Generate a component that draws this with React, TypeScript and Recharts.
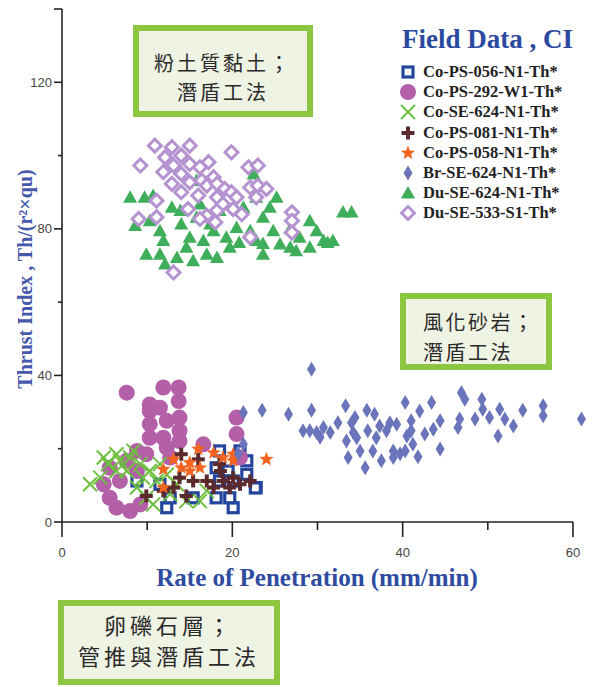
import React from 'react';
import { ScatterChart, Scatter, XAxis, YAxis, ReferenceLine } from 'recharts';

type Pt = [number, number];

const X_TICKS = [0, 10, 20, 30, 40, 50, 60];
const Y_TICKS = [0, 20, 40, 60, 80, 100, 120, 140];
const X_LABELED = [0, 20, 40, 60];
const Y_LABELED = [0, 40, 80, 120];

// Co-PS-056-N1-Th* (open squares)
const coPS056: Pt[] = [
  [18.5, 19.4], [18.1, 14.8], [19.5, 13.9], [20.1, 11.2], [21.7, 16.7], [21.7, 13],
  [22.8, 9.4], [20.1, 3.9], [12.3, 3.9], [8.8, 11.2], [12.7, 6.6], [15.4, 6.6],
  [18.1, 6.6], [19.7, 6.6], [18.5, 11.2], [20.9, 19.4], [11.5, 10.3], [22.7, 9.3],
];

// Co-PS-292-W1-Th* (filled circles)
const coPS292: Pt[] = [
  [7.6, 35.3], [10.3, 32.1], [11.9, 36.7], [13.7, 36.7], [13.7, 33], [10.3, 30.3],
  [11.5, 31.2], [10.3, 26.7], [12.3, 27.6], [13.8, 28.5], [10.3, 23], [11.9, 23],
  [13.8, 24.9], [13.8, 22.1], [8.8, 19.4], [7.6, 16.7], [5.6, 14.8], [4.9, 10.3],
  [5.6, 6.6], [6.4, 3.9], [8, 3], [9.2, 4.8], [16.6, 21.2], [20.5, 28.5],
  [20.5, 24], [20.9, 17.6], [8.8, 13.9], [9.9, 18.5], [12.3, 20.3], [6.8, 11.2],
  [12.7, 17.6],
];

// Co-SE-624-N1-Th* (crosses)
const coSE624: Pt[] = [
  [4.9, 17.6], [6.4, 18.5], [5.4, 15.8], [3.3, 10.3], [4.5, 12.1], [8.4, 19.4],
  [8, 17.6], [9.2, 15.8], [7.6, 13.9], [9.5, 12.1], [10.3, 13.9], [11.1, 11.2],
  [8.8, 9.4], [9.9, 6.6], [10.7, 4.8], [12.7, 7.6], [13.5, 10.3], [14.6, 5.7],
  [16.2, 5.7], [17, 8.5], [12.3, 12.9], [6.8, 16.7], [11.5, 15.8], [6.4, 13.9],
];

// Co-PS-081-N1-Th* (plus)
const coPS081: Pt[] = [
  [14, 18.5], [16, 17.1], [9.9, 7.1], [11.9, 8.5], [14.6, 7.1], [13.8, 12.1],
  [15.4, 11.2], [17, 11.2], [18.6, 13.9], [18.9, 11.2], [19.7, 9.4], [20.9, 10.3],
  [22.1, 11.2], [17.8, 9.4], [20.1, 12.1], [13.1, 9.4], [18.5, 15.8],
];

// Co-PS-058-N1-Th* (stars)
const coPS058: Pt[] = [
  [11.9, 14.4], [11.9, 9.4], [13.1, 17.1], [14, 14.8], [15, 16.2], [16, 19.9],
  [16.2, 14.8], [17.8, 18.9], [18.9, 17.6], [20.1, 16.7], [20.1, 18.5], [24, 17.1],
  [15, 13.9],
];

// Br-SE-624-N1-Th* (slim diamonds)
const brSE624: Pt[] = [
  [29.3, 41.7], [23.5, 30.5], [26.6, 29.4], [29.3, 30.5], [28.3, 24.9], [29.9, 24.4],
  [30.7, 25.8], [31.5, 24.4], [32.4, 27.1], [33.3, 31.7], [33.4, 22.1], [33.6, 17.6],
  [34.4, 28.5], [34.6, 23], [35, 19.4], [35.6, 14.8], [35.8, 30.5], [35.9, 24.9],
  [36.7, 29.4], [36.5, 19.4], [37.3, 26.2], [37.5, 16.7], [38.1, 24.9], [38.9, 19.4],
  [39.3, 26.7], [39.7, 18.6], [40.3, 32.6], [40.5, 23.5], [41, 27.6], [41.2, 21.2],
  [41.8, 17.8], [42, 30.3], [42.6, 24], [43.4, 32.6], [43.6, 25.3], [44.4, 27.6],
  [44.4, 19.9], [46.5, 25.8], [46.9, 35.3], [47.3, 33.5], [46.7, 28.1], [48.5, 28.1],
  [49.3, 33.5], [49.4, 30.8], [50.2, 28.5], [51.2, 23.5], [51.4, 30.8], [52, 28.1],
  [53, 26.2], [54.1, 30.5], [56.5, 31.7], [56.5, 29], [61, 28.1], [21.3, 29.9],
  [21.3, 21.2], [20.7, 18.6], [29.1, 24.9], [30.3, 23.1], [34, 27.1], [34.2, 24.4],
  [36.9, 23], [38.5, 27.1], [40.3, 19.4], [41, 24.9], [38.9, 17.6],
];

// Du-SE-624-N1-Th* (triangles)
const duSE624: Pt[] = [
  [8, 88.6], [9.7, 88.6], [10.7, 89.1], [12.9, 85.9], [8.6, 80.9], [10.3, 82.2],
  [11.5, 79.5], [11.9, 76.8], [9.9, 73.1], [11.5, 73.1], [12.1, 70.4], [14, 81.3],
  [15, 77.7], [14.6, 75], [15.8, 83.2], [15.8, 93.2], [16.6, 76.8], [17, 73.1],
  [17.8, 79.5], [18.5, 85], [19.3, 77.7], [19.7, 75], [20.5, 80.4], [21.3, 85.9],
  [22.1, 79.5], [22.8, 76.8], [23.6, 83.2], [23.6, 73.1], [24.4, 85.9], [25.2, 88.6],
  [22.5, 95], [24.8, 79.5], [26.8, 75], [27.9, 77.7], [29.1, 82.2], [29.9, 79.5],
  [30.7, 76.8], [31.8, 76.8], [33, 84.6], [34, 84.6], [13.5, 72.2], [15.4, 71.3],
  [18.2, 72.2], [17.4, 81.3], [16.2, 86.8], [13.9, 85], [22.8, 88.6], [20.8, 76.3],
  [25.6, 75.9], [27.5, 74], [29.1, 75], [31.2, 76.3], [26.8, 80], [23.6, 76],
];

// Du-SE-533-S1-Th* (open diamonds)
const duSE533: Pt[] = [
  [10.9, 102.7], [12.9, 102.3], [15, 102.7], [12.1, 99.5], [14, 100], [9.2, 97.3],
  [13.1, 97.3], [15, 97.7], [16.2, 96.8], [17.2, 98.2], [19.9, 100.9], [11.9, 95.5],
  [14, 95], [12.9, 92.3], [15, 92.7], [16.4, 93.2], [17.8, 94.1], [14, 90],
  [16, 89.1], [17, 91.8], [18.2, 92.3], [19.1, 90.9], [19.9, 90], [21.9, 96.8],
  [23, 97.3], [22.1, 91.3], [23, 91.8], [24, 90.9], [22.8, 88.6], [11.1, 87.7],
  [18.2, 88.6], [20.5, 88.6], [14.8, 85.4], [17, 83.6], [18.2, 85], [18.9, 86.8],
  [20.1, 85.4], [21.1, 84], [16.2, 82.7], [18, 81.8], [9, 82.7], [11.1, 83.2],
  [27, 84.5], [27, 82.2], [27, 79], [22.1, 77.7], [13.1, 68.1],
];

const toRows = (pts: Pt[]) => pts.map(([x, y]) => ({ x, y }));

type Kind = 'square' | 'circle' | 'cross' | 'plus' | 'star' | 'slim' | 'triangle' | 'diamond';

const SERIES: { name: string; data: Pt[]; kind: Kind; color: string }[] = [
  { name: 'Co-PS-056-N1-Th*', data: coPS056, kind: 'square', color: '#23459d' },
  { name: 'Co-PS-292-W1-Th*', data: coPS292, kind: 'circle', color: '#b360a8' },
  { name: 'Co-SE-624-N1-Th*', data: coSE624, kind: 'cross', color: '#6dbf3e' },
  { name: 'Co-PS-081-N1-Th*', data: coPS081, kind: 'plus', color: '#5b2a2c' },
  { name: 'Co-PS-058-N1-Th*', data: coPS058, kind: 'star', color: '#f2641f' },
  { name: 'Br-SE-624-N1-Th*', data: brSE624, kind: 'slim', color: '#6a74ba' },
  { name: 'Du-SE-624-N1-Th*', data: duSE624, kind: 'triangle', color: '#3fae5b' },
  { name: 'Du-SE-533-S1-Th*', data: duSE533, kind: 'diamond', color: '#b493d0' },
];

const starPoints = (cx: number, cy: number, ro: number, ri: number) => {
  const p: string[] = [];
  for (let i = 0; i < 10; i++) {
    const a = (-90 + i * 36) * Math.PI / 180;
    const r = i % 2 ? ri : ro;
    p.push(`${cx + r * Math.cos(a)},${cy + r * Math.sin(a)}`);
  }
  return p.join(' ');
};

const Marker = ({ kind, cx, cy, color }: { kind: Kind; cx: number; cy: number; color: string }) => {
  switch (kind) {
    case 'square':
      return <rect x={cx - 5} y={cy - 5} width={10} height={10} fill="#fff" stroke={color} strokeWidth={3.2} />;
    case 'circle':
      return <circle cx={cx} cy={cy} r={8} fill={color} />;
    case 'cross':
      return (
        <g stroke={color} strokeWidth={2}>
          <line x1={cx - 7} y1={cy - 7} x2={cx + 7} y2={cy + 7} />
          <line x1={cx - 7} y1={cy + 7} x2={cx + 7} y2={cy - 7} />
        </g>
      );
    case 'plus':
      return (
        <g stroke={color} strokeWidth={4}>
          <line x1={cx - 6.5} y1={cy} x2={cx + 6.5} y2={cy} />
          <line x1={cx} y1={cy - 6.5} x2={cx} y2={cy + 6.5} />
        </g>
      );
    case 'star':
      return <polygon points={starPoints(cx, cy, 7.5, 3.2)} fill={color} />;
    case 'slim':
      return <polygon points={`${cx},${cy - 7.5} ${cx + 4.5},${cy} ${cx},${cy + 7.5} ${cx - 4.5},${cy}`} fill={color} />;
    case 'triangle':
      return <polygon points={`${cx},${cy - 7} ${cx + 7},${cy + 5.5} ${cx - 7},${cy + 5.5}`} fill={color} />;
    case 'diamond':
      return (
        <polygon
          points={`${cx},${cy - 6.5} ${cx + 6.5},${cy} ${cx},${cy + 6.5} ${cx - 6.5},${cy}`}
          fill="#fff" stroke={color} strokeWidth={3}
        />
      );
    default:
      return null;
  }
};

const XTick = (props: any) => {
  const { x, y, payload } = props;
  const major = X_LABELED.includes(payload.value);
  return (
    <g>
      <line x1={x} x2={x} y1={y} y2={y + (major ? 15 : 8)} stroke="#222" strokeWidth={1.6} />
      {major && (
        <text x={x} y={y + 30} textAnchor="middle" dominantBaseline="central" fontSize={13}
          fill="#444" fontFamily="'Liberation Sans', Arial, sans-serif">
          {payload.value}
        </text>
      )}
    </g>
  );
};

const YTick = (props: any) => {
  const { x, y, payload } = props;
  const labeled = Y_LABELED.includes(payload.value);
  const long = labeled || payload.value === 140;
  return (
    <g>
      <line x1={x} x2={x - (long ? 8 : 4)} y1={y} y2={y} stroke="#222" strokeWidth={1.6} />
      {labeled && (
        <text x={x - 10} y={y} textAnchor="end" dominantBaseline="central" fontSize={13}
          fill="#444" fontFamily="'Liberation Sans', Arial, sans-serif">
          {payload.value}
        </text>
      )}
    </g>
  );
};

const serif = "'Liberation Serif', 'Times New Roman', serif";
const cjk = "'Noto Sans CJK TC', 'Noto Sans CJK SC', sans-serif";

const NoteBox = ({ left, top, width, height, lines, align, padTop, padLeft, size, spacing, lh }: any) => (
  <div style={{
    position: 'absolute', left, top, width, height, boxSizing: 'border-box',
    border: '6px solid #8cc540', background: '#eef3e3', paddingTop: padTop, paddingLeft: padLeft,
    textAlign: align, fontFamily: cjk, fontSize: size, letterSpacing: spacing, lineHeight: `${lh}px`,
    color: '#2a2a2a',
  }}>
    {lines.map((l: string) => <div key={l}>{l}</div>)}
  </div>
);

export default function App() {
  return (
    <div style={{ position: 'absolute', left: 0, top: 0, width: 597, height: 687, background: '#fff', overflow: 'hidden' }}>
      <ScatterChart width={597} height={687} margin={{ top: 9, right: 7, bottom: 125, left: 2 }}>
        <XAxis type="number" dataKey="x" domain={[0, 62]} ticks={X_TICKS} interval={0}
          height={40} tickSize={0} tickMargin={0} axisLine={false} tickLine={false} tick={<XTick />} />
        <YAxis type="number" dataKey="y" domain={[0, 140]} ticks={Y_TICKS} interval={0}
          width={60} tickSize={0} tickMargin={0} tickLine={false}
          axisLine={{ stroke: '#222', strokeWidth: 1.6 }} tick={<YTick />} />
        {SERIES.map((s) => (
          <Scatter key={s.name} name={s.name} data={toRows(s.data)} isAnimationActive={false}
            shape={(p: any) => <Marker kind={s.kind} cx={p.cx} cy={p.cy} color={s.color} />} />
        ))}
        <ReferenceLine segment={[{ x: 0, y: 0 }, { x: 60, y: 0 }]} stroke="#222" strokeWidth={1.6} />
      </ScatterChart>

      <div style={{
        position: 'absolute', left: 25, top: 279, transform: 'translate(-50%, -50%) rotate(-90deg)',
        whiteSpace: 'nowrap', fontFamily: serif, fontWeight: 'bold', fontSize: 20, color: '#4658ab',
      }}>
        Thrust Index , Th/(r²×qu)
      </div>
      <div style={{
        position: 'absolute', left: 317, top: 578, transform: 'translate(-50%, -50%)',
        whiteSpace: 'nowrap', fontFamily: serif, fontWeight: 'bold', fontSize: 25, color: '#2f4b9f',
      }}>
        Rate of Penetration (mm/min)
      </div>

      <div style={{
        position: 'absolute', left: 402, top: 23, whiteSpace: 'nowrap', fontFamily: serif,
        fontWeight: 'bold', fontSize: 27, lineHeight: '32px', color: '#2b4a9f',
      }}>
        Field Data , CI
      </div>
      {SERIES.map((s, i) => (
        <div key={s.name} style={{
          position: 'absolute', left: 399, top: 62 + i * 20.2, height: 20, display: 'flex', alignItems: 'center',
          whiteSpace: 'nowrap', fontFamily: serif, fontWeight: 'bold', fontSize: 16.5, color: '#222',
        }}>
          <svg width={18} height={18} style={{ marginRight: 6 }}>
            <Marker kind={s.kind} cx={9} cy={9} color={s.color} />
          </svg>
          {s.name}
        </div>
      ))}

      <NoteBox left={133} top={25} width={180} height={92} lines={['粉土質黏土；', '潛盾工法']}
        align="center" padTop={17} padLeft={0} size={20} spacing={3} lh={29} />
      <NoteBox left={400} top={293} width={152} height={77} lines={['風化砂岩；', '潛盾工法']}
        align="left" padTop={8} padLeft={17} size={20} spacing={2.5} lh={30} />
      <NoteBox left={58} top={600} width={222} height={85} lines={['卵礫石層；', '管推與潛盾工法']}
        align="center" padTop={3} padLeft={0} size={22} spacing={4} lh={31} />
    </div>
  );
}
